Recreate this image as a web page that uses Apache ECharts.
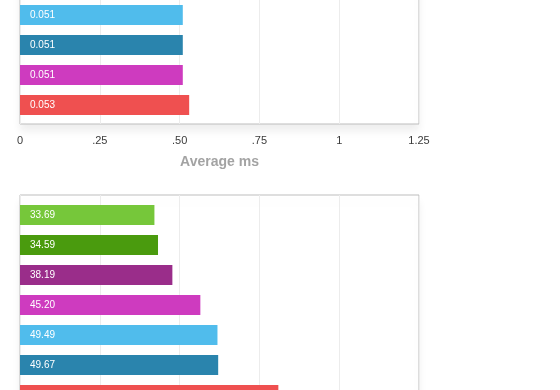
<!DOCTYPE html>
<html>
<head>
<meta charset="utf-8">
<script src="https://cdn.jsdelivr.net/npm/echarts@6/dist/echarts.min.js"></script>
<style>
html,body{margin:0;padding:0;background:#fff;overflow:hidden;width:560px;height:390px;}
#chart{position:absolute;left:0;top:-100px;width:560px;height:640px;}
</style>
</head>
<body>
<div id="chart"></div>
<script>
// ---- data ----
const topCategories = ['Item 4', 'Item 5', 'Item 6', 'Item 7'];
const topValues = [0.051, 0.051, 0.051, 0.053];
const topTickLabels = ['0', '.25', '.50', '.75', '1', '1.25'];
const topAxisName = 'Average ms';

const bottomCategories = ['Item 1', 'Item 2', 'Item 3', 'Item 4', 'Item 5', 'Item 6', 'Item 7'];
const bottomValues = [33.69, 34.59, 38.19, 45.20, 49.49, 49.67, 64.75];

// ---- styles ----
const topColors = ['#50bcec', '#2a84ad', '#ce3bbf', '#ef5050'];
const bottomColors = ['#76c73a', '#4a9b0e', '#9a2d8a', '#ce3bbf', '#50bcec', '#2a84ad', '#ef5050'];
const FONT = 'Helvetica, Arial, "Liberation Sans", sans-serif';
const OFF = 100; // container is shifted up by this many pixels

const chart = echarts.init(document.getElementById('chart'), null, {renderer: 'canvas'});

function frameGrid(top, height) {
  return {
    left: 20, width: 399, top: top + OFF, height: height,
    show: true, borderColor: '#bdbdbd', borderWidth: 1, backgroundColor: '#fff',
    shadowColor: 'rgba(0,0,0,0.07)', shadowBlur: 8, shadowOffsetY: 7
  };
}
function barGrid(top, height) {
  return { left: 20, width: 399, top: top + OFF, height: height, show: false };
}
function barSeries(idx, values, colors, digits) {
  return {
    type: 'bar', xAxisIndex: idx, yAxisIndex: idx,
    barWidth: 20,
    data: values.map((v, i) => ({ value: v, itemStyle: { color: colors[i] } })),
    label: {
      show: true, position: 'insideLeft', distance: 10,
      color: '#fff', fontSize: 10, fontFamily: FONT,
      formatter: p => p.value.toFixed(digits)
    },
    silent: true, animation: false
  };
}
const hiddenValueAxis = (g, max, interval) => ({
  type: 'value', gridIndex: g, min: 0, max: max, interval: interval, show: false
});

chart.setOption({
  animation: false,
  grid: [
    frameGrid(-40, 164),
    barGrid(0, 120),
    frameGrid(195, 260),
    barGrid(200, 210)
  ],
  xAxis: [
    {
      type: 'value', gridIndex: 0, min: 0, max: 0.125, interval: 0.025,
      axisLine: { show: false }, axisTick: { show: false },
      splitLine: { show: true, lineStyle: { color: '#ececec', width: 1 } },
      axisLabel: {
        color: '#3a3a3a', fontSize: 11, fontFamily: FONT, margin: 11,
        formatter: v => topTickLabels[Math.round(v / 0.025)]
      },
      name: topAxisName, nameLocation: 'middle', nameGap: 31,
      nameTextStyle: { color: '#a3a3a3', fontSize: 14, fontWeight: 'bold', fontFamily: FONT }
    },
    hiddenValueAxis(1, 0.125, 0.025),
    {
      type: 'value', gridIndex: 2, min: 0, max: 100, interval: 20,
      axisLine: { show: false }, axisTick: { show: false },
      splitLine: { show: true, lineStyle: { color: '#ececec', width: 1 } },
      axisLabel: { show: false }
    },
    hiddenValueAxis(3, 100, 20)
  ],
  yAxis: [
    { type: 'value', gridIndex: 0, show: false },
    { type: 'category', gridIndex: 1, data: topCategories, inverse: true, show: false },
    { type: 'value', gridIndex: 2, show: false },
    { type: 'category', gridIndex: 3, data: bottomCategories, inverse: true, show: false }
  ],
  series: [
    barSeries(1, topValues, topColors, 3),
    barSeries(3, bottomValues, bottomColors, 2)
  ]
});
</script>
</body>
</html>
